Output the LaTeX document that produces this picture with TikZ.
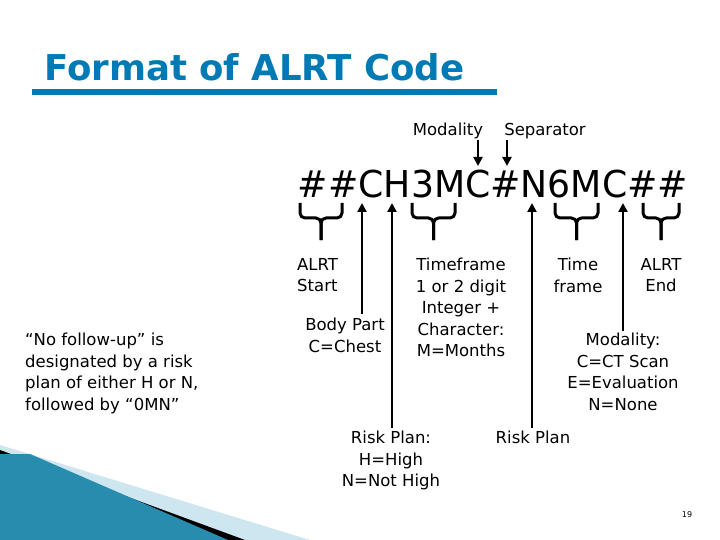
\documentclass[tikz,border=0pt]{standalone}
\usepackage{fontspec}
\setmainfont{DejaVu Sans}
\usetikzlibrary{arrows.meta}
\definecolor{tblue}{RGB}{0,122,180}
\definecolor{teal1}{RGB}{40,140,175}
\definecolor{lblue}{RGB}{205,230,240}
\begin{document}
\begin{tikzpicture}[x=1pt,y=-1pt,
  lbl/.style={font=\fontsize{16.5}{21.5}\selectfont,align=center,inner sep=0pt,anchor=north},
  br/.style={line width=3pt,line join=round,rounded corners=5pt},
  arr/.style={line width=2.4pt,-{Triangle[length=9pt,width=9pt]}}]
\useasboundingbox (0,0) rectangle (720,540);
% decoration
\fill[lblue] (0,445) -- (310,540) -- (0,540) -- cycle;
\fill[black] (0,450) -- (245,540) -- (0,540) -- cycle;
\fill[teal1] (0,454) -- (30,454) -- (228,540) -- (0,540) -- cycle;
% title
\node[anchor=south west,inner sep=0pt,text=tblue] (title) at (44,81)
  {\resizebox{420pt}{!}{\bfseries Format of ALRT Code}};
\fill[tblue] (32,89) rectangle (497,95);
% code
\node[anchor=base,inner sep=0pt] (code) at (493,197)
  {\resizebox{390pt}{27.5pt}{\#\#CH3MC\#N6MC\#\#}};
% top labels
\node[lbl] (mod) at (448,123) {Modality};
\node[lbl] (sep) at (545,123) {Separator};
\coordinate (m1) at (478,140); \coordinate (m2) at (478,166);
\coordinate (s1) at (507,140); \coordinate (s2) at (507,166);
\draw[arr] (m1) -- (m2);
\draw[arr] (s1) -- (s2);
% braces
\foreach \a/\b in {300/342,412/455,555/598,643/679}{
  \pgfmathsetmacro\m{(\a+\b)/2}
  \draw[br] (\a,203) -- (\a,218) -- (\m,218) -- (\m,240);
  \draw[br] (\b,203) -- (\b,218) -- (\m,218) -- (\m,240);
}
% labels
\node[lbl,align=left,anchor=north west] (start) at (297,258) {ALRT\\Start};
\node[lbl] (body) at (345,318) {Body Part\\C=Chest};
\node[lbl] (tf) at (461,258) {Timeframe\\1 or 2 digit\\Integer +\\Character:\\M=Months};
\node[lbl] (time) at (578,258) {Time\\frame};
\node[lbl] (end) at (661,258) {ALRT\\End};
\node[lbl] (modc) at (623,333) {Modality:\\C=CT Scan\\E=Evaluation\\N=None};
\node[lbl] (rp1) at (391,431) {Risk Plan:\\H=High\\N=Not High};
\node[lbl] (rp2) at (533,431) {Risk Plan};
\node[lbl,align=left,anchor=north west] (nofu) at (25,333)
  {“No follow-up” is\\designated by a risk\\plan of either H or N,\\followed by “0MN”};
\node[inner sep=0pt,font=\fontsize{8}{8}\selectfont] (pg) at (687,515) {19};
% long arrows
\draw[arr] (362,314) -- (362,203);
\draw[arr] (392,428) -- (392,203);
\draw[arr] (532,428) -- (532,203);
\draw[arr] (623,331) -- (623,203);
\end{tikzpicture}
\end{document}
